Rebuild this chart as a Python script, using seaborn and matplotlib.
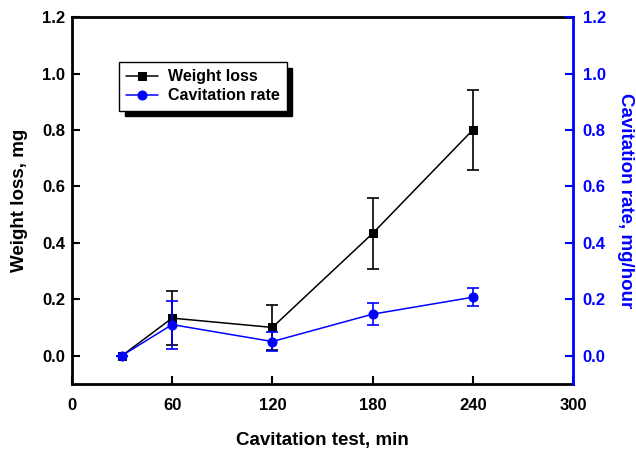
import numpy as np
import seaborn as sns
import matplotlib.pyplot as plt

## Data
time_min = [30, 60, 120, 180, 240]
weight_loss = [0.0, 0.133, 0.10, 0.433, 0.80]
weight_err = [0.0, 0.095, 0.08, 0.125, 0.142]
cav_rate = [0.0, 0.11, 0.05, 0.147, 0.207]
cav_err = [0.0, 0.085, 0.035, 0.04, 0.031]

sns.set_style("ticks")
plt.rcParams['font.family'] = ['Liberation Sans', 'DejaVu Sans']
plt.rcParams['font.weight'] = 'bold'
plt.rcParams['text.color'] = 'black'
plt.rcParams['axes.labelcolor'] = 'black'
plt.rcParams['xtick.color'] = 'black'
plt.rcParams['ytick.color'] = 'black'
plt.rcParams['axes.edgecolor'] = 'black'

fig = plt.figure(figsize=(6.36, 4.5), dpi=100)
ax = fig.add_axes([0.113, 0.147, 0.788, 0.815])
ax2 = ax.twinx()

## Weight loss on left axis
ax.errorbar(time_min, weight_loss, yerr=weight_err, fmt='none', ecolor='black',
            elinewidth=1.2, capsize=4, capthick=1.2, zorder=2)
sns.lineplot(x=time_min, y=weight_loss, ax=ax, color='black', marker='s',
             markersize=6, markeredgecolor='black', linewidth=1.1, label='Weight loss',
             legend=False, zorder=3)

## Cavitation rate on right axis
ax2.errorbar(time_min, cav_rate, yerr=cav_err, fmt='none', ecolor='blue',
             elinewidth=1.2, capsize=4, capthick=1.2, zorder=2)
sns.lineplot(x=time_min, y=cav_rate, ax=ax2, color='blue', marker='o',
             markersize=6.5, markeredgecolor='blue', linewidth=1.1, label='Cavitation rate',
             legend=False, zorder=3)

ax.set_xlim(0, 300)
ax.set_ylim(-0.1, 1.2)
ax2.set_ylim(-0.1, 1.2)
ax.set_xticks([0, 60, 120, 180, 240, 300])
ax.set_yticks(np.arange(0, 1.21, 0.2))
ax2.set_yticks(np.arange(0, 1.21, 0.2))
ax.yaxis.set_major_formatter(plt.FormatStrFormatter('%.1f'))
ax2.yaxis.set_major_formatter(plt.FormatStrFormatter('%.1f'))

ax.set_xlabel('Cavitation test, min', fontsize=13.5, fontweight='bold', labelpad=14)
ax.set_ylabel('Weight loss, mg', fontsize=13.5, fontweight='bold', labelpad=10)
ax2.set_ylabel('Cavitation rate, mg/hour', fontsize=13.5, fontweight='bold',
               color='blue', rotation=270, labelpad=20)

for a in (ax, ax2):
    for s in a.spines.values():
        s.set_linewidth(2)
        s.set_color('black')
ax2.spines['right'].set_color('blue')
ax2.spines['left'].set_visible(False)
ax2.spines['bottom'].set_visible(False)
ax2.spines['top'].set_visible(False)
ax.spines['right'].set_visible(False)

ax.tick_params(axis='both', direction='in', length=6, width=1.5, labelsize=12,
               colors='black')
ax.tick_params(axis='x', pad=10)
ax.tick_params(axis='y', right=False, pad=5)
ax2.tick_params(axis='y', direction='in', length=6, width=1.5, labelsize=12,
                colors='blue', pad=7)
for lbl in ax.get_xticklabels() + ax.get_yticklabels() + ax2.get_yticklabels():
    lbl.set_fontweight('bold')

## Combined legend with solid shadow
h1, l1 = ax.get_legend_handles_labels()
h2, l2 = ax2.get_legend_handles_labels()
leg = ax2.legend(h1 + h2, l1 + l2, loc='upper left', bbox_to_anchor=(0.094, 0.877),
                 borderaxespad=0, frameon=True, fancybox=False, edgecolor='black',
                 fontsize=11.5, shadow={'color': 'black', 'alpha': 1.0, 'ox': 4, 'oy': -4},
                 handlelength=2.0, handletextpad=0.6, borderpad=0.45, labelspacing=0.25)
leg.get_frame().set_linewidth(1.0)
for t in leg.get_texts():
    t.set_fontweight('bold')

fig.savefig('out.png', dpi=100)
